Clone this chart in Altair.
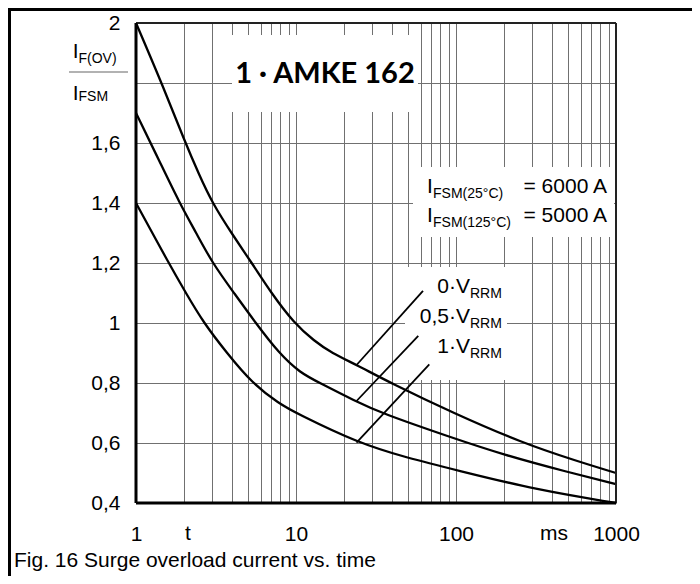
import altair as alt
import pandas as pd

# ---------------- data ----------------
curve_names = ["0·V_RRM", "0,5·V_RRM", "1·V_RRM"]

t_top = [1, 1.5, 2, 2.5, 3, 4, 5.3, 7, 9.7, 13, 16.7, 24, 39, 96, 260, 568, 1000]
v_top = [2.0, 1.78, 1.61, 1.49, 1.4, 1.295, 1.2, 1.1, 1.0, 0.94, 0.9, 0.86, 0.8, 0.7, 0.6, 0.54, 0.5]

t_mid = [1, 1.4, 1.87, 2.38, 3.0, 4.1, 5.6, 7.8, 10.6, 14.1, 23.4, 34, 91.6, 200, 500, 1000]
v_mid = [1.7, 1.54, 1.4, 1.3, 1.2, 1.1, 1.0, 0.9, 0.834, 0.8, 0.74, 0.7, 0.62, 0.56, 0.503, 0.463]

t_bot = [1, 1.6, 2.05, 2.65, 3.7, 5.3, 7.9, 10, 24.4, 50, 100, 316, 1000]
v_bot = [1.4, 1.2, 1.1, 1.0, 0.9, 0.8, 0.73, 0.7, 0.6, 0.55, 0.51, 0.444, 0.4]

leader_t_start = [62.2, 58.1, 68.1]
leader_v_start = [1.107, 0.957, 0.862]
leader_t_end = [23.9, 23.9, 23.9]
leader_v_end = [0.86, 0.74, 0.601]

x_grid = [1, 2, 3, 4, 5, 6, 7, 8, 9, 10, 20, 30, 40, 50, 60, 70, 80, 90,
          100, 200, 300, 400, 500, 600, 700, 800, 900, 1000]
x_labeled = [1, 10, 100, 1000]
y_grid = [0.4, 0.5, 0.6, 0.7, 0.8, 0.9, 1.0, 1.1, 1.2, 1.3, 1.4, 1.5, 1.6,
          1.7, 1.8, 1.9, 2.0]
y_labeled = [0.4, 0.6, 0.8, 1.0, 1.2, 1.4, 1.6, 2.0]

# ---------------- tables ----------------
rows = []
for name, ts, vs in zip(curve_names, [t_top, t_mid, t_bot], [v_top, v_mid, v_bot]):
    for t, v in zip(ts, vs):
        rows.append({"curve": name, "t": t, "v": v})
curves = pd.DataFrame(rows)

lrows = []
for i, name in enumerate(curve_names):
    lrows.append({"id": name, "t": leader_t_start[i], "v": leader_v_start[i]})
    lrows.append({"id": name, "t": leader_t_end[i], "v": leader_v_end[i]})
leaders = pd.DataFrame(lrows)

SANS = "Liberation Sans"
W, H = 480, 480

xscale = alt.Scale(type="log", domain=[1, 1000], nice=False)
yscale = alt.Scale(domain=[0.4, 2.0], nice=False, zero=False)

x_expr = "indexof([%s], datum.value) >= 0 ? format(datum.value, 'd') : ''" % ",".join(str(v) for v in x_labeled)
y_expr = "indexof([%s], round(datum.value*10)) >= 0 ? replace(format(datum.value, '~g'), '.', ',') : ''" % ",".join(str(int(round(v * 10))) for v in y_labeled)

x_axis = alt.Axis(values=x_grid, grid=True, gridColor="#707070", gridWidth=1,
                  ticks=False, tickSize=0, domain=False, labelExpr=x_expr,
                  labelFont=SANS, labelFontSize=21, labelColor="black",
                  labelPadding=20, labelFlush=False, labelOverlap=False, title=None)
y_axis = alt.Axis(values=y_grid, grid=True, gridColor="#707070", gridWidth=1,
                  ticks=False, tickSize=0, domain=False, labelExpr=y_expr,
                  labelFont=SANS, labelFontSize=21, labelColor="black",
                  labelPadding=16, labelFlush=False, labelOverlap=False, title=None)

curve_layer = alt.Chart(curves).mark_line(
    color="black", strokeWidth=2.3, interpolate="basis"
).encode(
    x=alt.X("t:Q", scale=xscale, axis=x_axis),
    y=alt.Y("v:Q", scale=yscale, axis=y_axis),
    detail="curve:N",
)

leader_layer = alt.Chart(leaders).mark_line(color="black", strokeWidth=1.8).encode(
    x=alt.X("t:Q", scale=xscale),
    y=alt.Y("v:Q", scale=yscale),
    detail="id:N",
)

one = pd.DataFrame({"k": [0]})


def txt(s, x, y, size, align="left", font=SANS, weight="normal"):
    return alt.Chart(one).mark_text(
        text=s, align=align, baseline="alphabetic", font=font,
        fontSize=size, fontWeight=weight, color="black"
    ).encode(x=alt.value(x), y=alt.value(y))


def box(x0, y0, x1, y1):
    return alt.Chart(one).mark_rect(color="white").encode(
        x=alt.value(x0), x2=alt.value(x1), y=alt.value(y0), y2=alt.value(y1))


def rule(x0, y0, x1, y1, color="black", width=1):
    return alt.Chart(one).mark_rule(color=color, strokeWidth=width).encode(
        x=alt.value(x0), x2=alt.value(x1), y=alt.value(y0), y2=alt.value(y1))


boxes = [box(96, 12, 282, 89), box(277, 144, 478, 214), box(269, 244, 371, 357)]

texts = [
    # title
    txt("1 · AMKE 162", 189, 60, 29, align="center", font="Lato", weight="bold"),
    # I_FSM values
    txt("I", 291, 170, 21), txt("FSM(25°C)", 297, 175, 14),
    txt("= 6000 A", 471, 170, 21, align="right"),
    txt("I", 291, 199, 21), txt("FSM(125°C)", 297, 204, 14),
    txt("= 5000 A", 471, 199, 21, align="right"),
    # curve labels
    txt("0·V", 334, 270, 21, align="right"), txt("RRM", 334, 275, 14),
    txt("0,5·V", 334, 300, 21, align="right"), txt("RRM", 334, 305, 14),
    txt("1·V", 334, 330, 21, align="right"), txt("RRM", 334, 335, 14),
    # y axis fraction label
    txt("I", -63.3, 35, 21), txt("F(OV)", -57.5, 40, 14),
    txt("I", -63.3, 77, 21), txt("FSM", -57.5, 78, 14),
    # x axis extra labels
    txt("t", 52, 517, 21, align="center"),
    txt("ms", 418, 517, 21, align="center"),
    # caption
    txt("Fig. 16 Surge overload current vs. time", -122, 544, 21),
]

rules = [
    rule(-67, 49, -8, 49, color="#999999", width=1.5),   # fraction bar
    rule(0, 0, W, 0, color="#222222", width=2),           # top frame
    rule(W, 0, W, H, color="#222222", width=2),           # right frame
    rule(0, 0, 0, H, color="black", width=3),             # left axis
    rule(0, H, W, H, color="black", width=3),             # bottom axis
    rule(-128, -13.5, 556, -13.5, color="black", width=3),  # figure border top
    rule(-126.5, -15, -126.5, 553, color="black", width=3),  # figure border left
]

chart = alt.layer(
    *boxes, curve_layer, leader_layer, *texts, *rules
).properties(
    width=W, height=H,
    padding={"left": 128, "top": 15, "right": 76, "bottom": 73},
    autosize=alt.AutoSizeParams(type="none"),
    background="white",
).configure_view(strokeWidth=0)

chart.save("out.html", embed_options={"renderer": "svg", "actions": False})
